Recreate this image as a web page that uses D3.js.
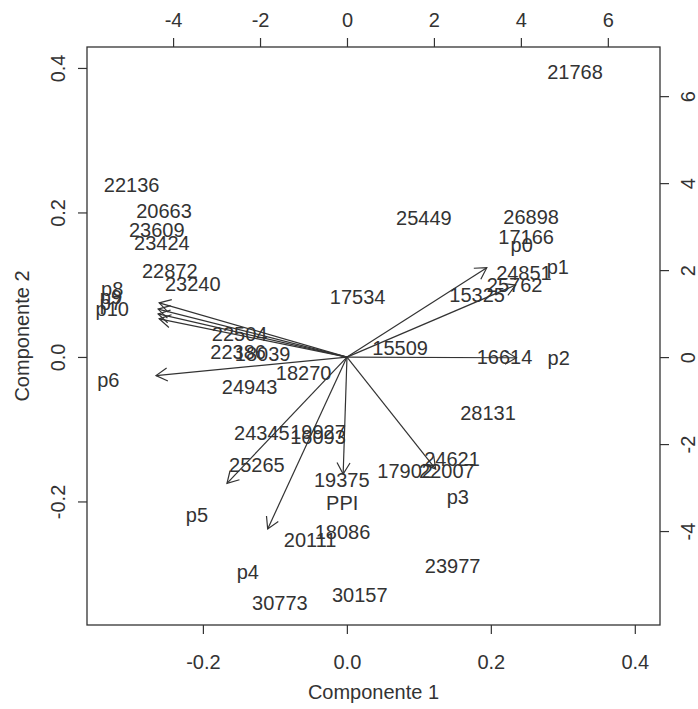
<!DOCTYPE html>
<html><head><meta charset="utf-8">
<script src="https://cdn.jsdelivr.net/npm/d3@7"></script>
<style>body{margin:0;background:#fff}svg{display:block}text{font-family:"Liberation Sans",Arial,sans-serif}</style>
</head><body><svg id="c" width="698" height="709"></svg>
<script>
// Observation scores (Componente 1, Componente 2) - primary axes
const obsLabels = ["21768","22136","20663","23609","23424","22872","23240","25449","26898","17166","24851","25762","15325","17534","15509","16614","22504","22386","18039","24943","18270","28131","24345","19927","16093","25265","19375","24621","17902","22007","18086","20111","23977","30157","30773"];
const obsX = [0.317,-0.299,-0.254,-0.264,-0.257,-0.246,-0.214,0.107,0.256,0.249,0.246,0.233,0.181,0.015,0.074,0.219,-0.149,-0.151,-0.117,-0.135,-0.060,0.196,-0.118,-0.040,-0.040,-0.125,-0.007,0.146,0.081,0.139,-0.006,-0.051,0.147,0.018,-0.093];
const obsY = [0.394,0.238,0.202,0.176,0.158,0.119,0.101,0.192,0.194,0.166,0.116,0.100,0.086,0.083,0.012,0.000,0.032,0.007,0.004,-0.041,-0.022,-0.077,-0.105,-0.104,-0.111,-0.149,-0.170,-0.141,-0.158,-0.158,-0.242,-0.253,-0.290,-0.329,-0.340];
// Variable loadings - secondary axes
const varLabels = ["p0","p1","p2","p3","PPI","p4","p5","p6","p8","p9","p7","p10"];
const varX = [4.02,4.85,4.87,2.55,-0.11,-2.28,-3.45,-5.49,-5.40,-5.43,-5.43,-5.40];
const varY = [2.57,2.07,-0.02,-3.22,-3.36,-4.94,-3.63,-0.53,1.56,1.38,1.24,1.10];
const ticks1 = [-0.2,0.0,0.2,0.4];
const ticks2 = [-4,-2,0,2,4,6];

const L=87,R=660,T=47,B=625;
const x = d3.scaleLinear().domain([-0.361,0.435]).range([L,R]);
const y = d3.scaleLinear().domain([-0.371,0.429]).range([B,T]);
const x2 = d3.scaleLinear().domain([-5.98,7.20]).range([L,R]);
const y2 = d3.scaleLinear().domain([-6.16,7.13]).range([B,T]);

const svg = d3.select("#c");
const ink="#333", fs=20;
const fmt1 = d => d.toFixed(1);
const fmt0 = d => String(d);

function styleAxis(g){ g.select(".domain").remove(); g.selectAll("line").attr("stroke",ink).attr("stroke-width",1.2); g.selectAll("text").attr("fill",ink).style("font-size",fs+"px"); }

svg.append("g").attr("transform",`translate(0,${B})`).call(d3.axisBottom(x).tickValues(ticks1).tickFormat(fmt1).tickSize(9).tickPadding(21)).call(styleAxis);
svg.append("g").attr("transform",`translate(0,${T})`).call(d3.axisTop(x2).tickValues(ticks2).tickFormat(fmt0).tickSize(9).tickPadding(11)).call(styleAxis);
const gl = svg.append("g").attr("transform",`translate(${L},0)`).call(d3.axisLeft(y).tickValues(ticks1).tickFormat(fmt1).tickSize(9)).call(styleAxis);
gl.selectAll("text").attr("transform","rotate(-90)").attr("x",0).attr("y",-29).attr("dy","0.35em").attr("text-anchor","middle");
const gr = svg.append("g").attr("transform",`translate(${R},0)`).call(d3.axisRight(y2).tickValues(ticks2).tickFormat(fmt0).tickSize(9)).call(styleAxis);
gr.selectAll("text").attr("transform","rotate(-90)").attr("x",0).attr("y",28).attr("dy","0.35em").attr("text-anchor","middle");

svg.append("rect").attr("x",L).attr("y",T).attr("width",R-L).attr("height",B-T).attr("fill","none").attr("stroke",ink).attr("stroke-width",1.3);

svg.append("text").attr("x",(L+R)/2).attr("y",692).attr("dy","0.35em").attr("text-anchor","middle").attr("fill",ink).style("font-size",fs+"px").text("Componente 1");
svg.append("text").attr("transform",`translate(22,${(T+B)/2}) rotate(-90)`).attr("dy","0.35em").attr("text-anchor","middle").attr("fill",ink).style("font-size",fs+"px").text("Componente 2");

// observations
svg.append("g").selectAll("text").data(obsLabels).join("text")
  .attr("x",(d,i)=>x(obsX[i])).attr("y",(d,i)=>y(obsY[i])).attr("dy","0.35em")
  .attr("text-anchor","middle").attr("fill",ink).style("font-size",fs+"px").text(d=>d);

// arrows
const ga = svg.append("g").attr("stroke",ink).attr("stroke-width",1.2).attr("fill","none");
const ox=x2(0), oy=y2(0), hl=13, ang=Math.PI/6;
varLabels.forEach((d,i)=>{
  const ex=x2(0.8*varX[i]), ey=y2(0.8*varY[i]);
  ga.append("line").attr("x1",ox).attr("y1",oy).attr("x2",ex).attr("y2",ey);
  const th=Math.atan2(ey-oy,ex-ox);
  const p1=[ex-hl*Math.cos(th-ang), ey-hl*Math.sin(th-ang)];
  const p2=[ex-hl*Math.cos(th+ang), ey-hl*Math.sin(th+ang)];
  ga.append("path").attr("d",`M${p1[0]},${p1[1]}L${ex},${ey}L${p2[0]},${p2[1]}`);
});
svg.append("g").selectAll("text").data(varLabels).join("text")
  .attr("x",(d,i)=>x2(varX[i])).attr("y",(d,i)=>y2(varY[i])).attr("dy","0.35em")
  .attr("text-anchor","middle").attr("fill",ink).style("font-size",fs+"px").text(d=>d);
</script></body></html>
